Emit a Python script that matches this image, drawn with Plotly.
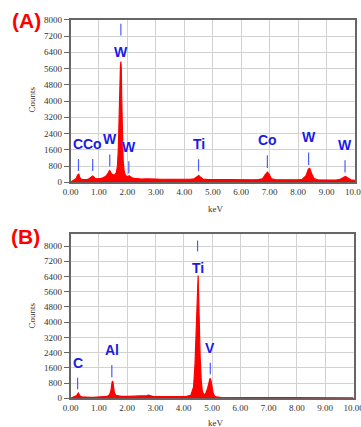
import plotly.graph_objects as go

W, H = 361, 427
def px(x): return x / W
def py(y): return 1 - y / H

# ---------------- Panel A data ----------------
A_keV = [0.00,0.05,0.10,0.15,0.20,0.24,0.27,0.29,0.32,0.36,0.42,0.50,0.58,0.65,0.71,0.75,0.78,0.81,0.86,0.92,
         1.00,1.08,1.16,1.24,1.30,1.34,1.37,1.40,1.44,1.50,1.56,1.61,1.65,1.68,1.70,1.72,1.74,1.755,1.77,1.785,
         1.80,1.815,1.83,1.85,1.88,1.92,1.97,2.02,2.06,2.10,2.16,2.25,2.35,2.5,2.65,2.8,3.0,3.2,3.4,3.6,3.8,
         4.0,4.2,4.35,4.45,4.51,4.57,4.65,4.8,5.0,5.2,5.4,5.6,5.8,6.0,6.2,6.4,6.6,6.75,6.85,6.92,6.98,7.06,
         7.2,7.4,7.6,7.8,8.0,8.15,8.28,8.36,8.41,8.47,8.56,8.7,8.9,9.1,9.3,9.45,9.58,9.66,9.74,9.85,10.0]
A_counts = [0,40,90,130,190,330,430,420,260,170,130,120,130,170,230,290,310,280,200,170,
            170,190,230,300,400,520,580,540,420,360,380,480,800,1600,2800,4600,4650,5700,5950,5600,
            4200,3000,1900,1100,600,380,300,280,320,260,220,190,170,160,170,150,160,150,145,150,140,
            145,150,170,260,330,250,160,140,135,130,135,125,130,125,130,125,135,170,380,500,400,170,
            130,120,125,120,125,150,330,650,690,450,180,125,115,115,110,130,230,290,220,120,100]

A_el = ["C", "Co", "W", "W", "W", "Ti", "Co", "W", "W"]
A_el_keV = [0.28, 0.78, 1.38, 1.77, 2.05, 4.50, 6.92, 8.37, 9.65]
A_lbl_keV = [0.27, 0.77, 1.40, 1.77, 2.05, 4.50, 6.92, 8.37, 9.65]
A_lbl_y = [1910, 1910, 2150, 6430, 1745, 1877, 2075, 2207, 1827]
A_mk_lo = [560, 560, 775, 7225, 430, 543, 706, 854, 479]
A_mk_hi = [1150, 1150, 1370, 7800, 1040, 1136, 1333, 1467, 1086]

# ---------------- Panel B data ----------------
B_keV = [0.00,0.05,0.10,0.16,0.22,0.26,0.28,0.30,0.34,0.40,0.5,0.6,0.7,0.8,0.9,1.0,1.1,1.2,1.3,1.38,1.43,1.46,
         1.48,1.50,1.52,1.55,1.60,1.7,1.8,2.0,2.2,2.4,2.6,2.7,2.76,2.82,2.9,3.1,3.3,3.5,3.7,3.9,4.1,4.25,4.35,
         4.40,4.44,4.47,4.49,4.51,4.53,4.55,4.58,4.62,4.66,4.72,4.78,4.84,4.89,4.93,4.96,5.00,5.04,5.09,5.15,
         5.3,5.5,5.7,6.0,6.3,6.6,7.0,7.4,7.8,8.2,8.6,9.0,9.5,10.0]
B_counts = [0,30,60,90,150,250,280,220,120,80,60,50,50,50,55,60,70,80,100,180,420,750,
            900,870,600,300,150,110,100,100,110,105,110,140,170,140,100,95,90,90,85,90,100,150,600,
            1800,3600,5400,5450,6450,5300,3900,2200,900,350,180,250,500,900,1050,950,600,280,120,70,
            55,50,50,45,45,40,40,35,35,30,30,25,25,20]

B_el = ["C", "Al", "Ti", "V"]
B_el_keV = [0.25, 1.46, 4.49, 4.94]
B_lbl_y = [1874, 2542, 6842, 2663]
B_mk_lo = [474, 1105, 7716, 1263]
B_mk_hi = [1084, 1753, 8295, 1874]

X_TICKS = [0, 1, 2, 3, 4, 5, 6, 7, 8, 9, 10]
X_LABELS = ["%.2f" % v for v in X_TICKS]
Y_TICKS = [0, 800, 1600, 2400, 3200, 4000, 4800, 5600, 6400, 7200, 8000]
Y_LABELS = [str(v) for v in Y_TICKS]

RED = "#ff0000"
BLUE = "#1a1ae6"
MK = "#4a5cff"

fig = go.Figure()
fig.add_trace(go.Scatter(x=A_keV, y=A_counts, mode="lines", line=dict(color=RED, width=1.2),
                         fill="tozeroy", fillcolor=RED, xaxis="x", yaxis="y", hoverinfo="skip"))
fig.add_trace(go.Scatter(x=B_keV, y=B_counts, mode="lines", line=dict(color=RED, width=1.2),
                         fill="tozeroy", fillcolor=RED, xaxis="x2", yaxis="y2", hoverinfo="skip"))

tickfont = dict(family="Liberation Serif", size=9, color="#333")
common = dict(showgrid=True, gridcolor="#d2d2d2", gridwidth=1, showline=True, mirror=True,
              linecolor="#666", linewidth=1.5, zeroline=False, tickfont=tickfont, layer="below traces",
              ticklabeloverflow="allow", automargin=False)
xcommon = dict(common, range=[0, 10], tickvals=X_TICKS, ticktext=X_LABELS, ticks="")
ycommon = dict(common, tickvals=Y_TICKS, ticktext=Y_LABELS, ticks="outside", ticklen=5, tickcolor="#666")

fig.update_layout(
    width=W, height=H, margin=dict(l=0, r=0, t=0, b=0, autoexpand=False),
    paper_bgcolor="white", plot_bgcolor="white", showlegend=False,
    xaxis=dict(xcommon, domain=[px(70.5), px(355)], anchor="y"),
    yaxis=dict(ycommon, domain=[py(182.3), py(19.8)], range=[0, 8000], anchor="x"),
    xaxis2=dict(xcommon, domain=[px(70.5), px(353.5)], anchor="y2"),
    yaxis2=dict(ycommon, domain=[py(398.3), py(234)], range=[0, 8632], anchor="x2"),
)

ann = []
shapes = []
def add_elements(names, lx, ly, mx, lo, hi, xr, yr):
    for n, x, y in zip(names, lx, ly):
        ann.append(dict(x=x, y=y, xref=xr, yref=yr, text="<b>%s</b>" % n, showarrow=False,
                        font=dict(family="Liberation Sans", size=14, color=BLUE),
                        xanchor="center", yanchor="middle"))
    for x, a, b in zip(mx, lo, hi):
        shapes.append(dict(type="line", xref=xr, yref=yr, x0=x, x1=x, y0=a, y1=b,
                           line=dict(color=MK, width=1.2)))

add_elements(A_el, A_lbl_keV, A_lbl_y, A_el_keV, A_mk_lo, A_mk_hi, "x", "y")
add_elements(B_el, B_el_keV, B_lbl_y, B_el_keV, B_mk_lo, B_mk_hi, "x2", "y2")

# panel labels and axis titles
ann.append(dict(x=px(26), y=py(20), xref="paper", yref="paper", text="<b>(A)</b>", showarrow=False,
                font=dict(family="Liberation Sans", size=21, color=RED), xanchor="center", yanchor="middle"))
ann.append(dict(x=px(25), y=py(237), xref="paper", yref="paper", text="<b>(B)</b>", showarrow=False,
                font=dict(family="Liberation Sans", size=21, color=RED), xanchor="center", yanchor="middle"))
for cy in (100, 316):
    ann.append(dict(x=px(31.5), y=py(cy), xref="paper", yref="paper", text="Counts", showarrow=False,
                    textangle=-90, font=dict(family="Liberation Serif", size=9, color="#333"),
                    xanchor="center", yanchor="middle"))
for cy in (209, 423):
    ann.append(dict(x=px(216), y=py(cy), xref="paper", yref="paper", text="keV", showarrow=False,
                    font=dict(family="Liberation Serif", size=9, color="#333"),
                    xanchor="center", yanchor="middle"))

fig.update_layout(annotations=ann, shapes=shapes)
fig.write_html("out.html")
